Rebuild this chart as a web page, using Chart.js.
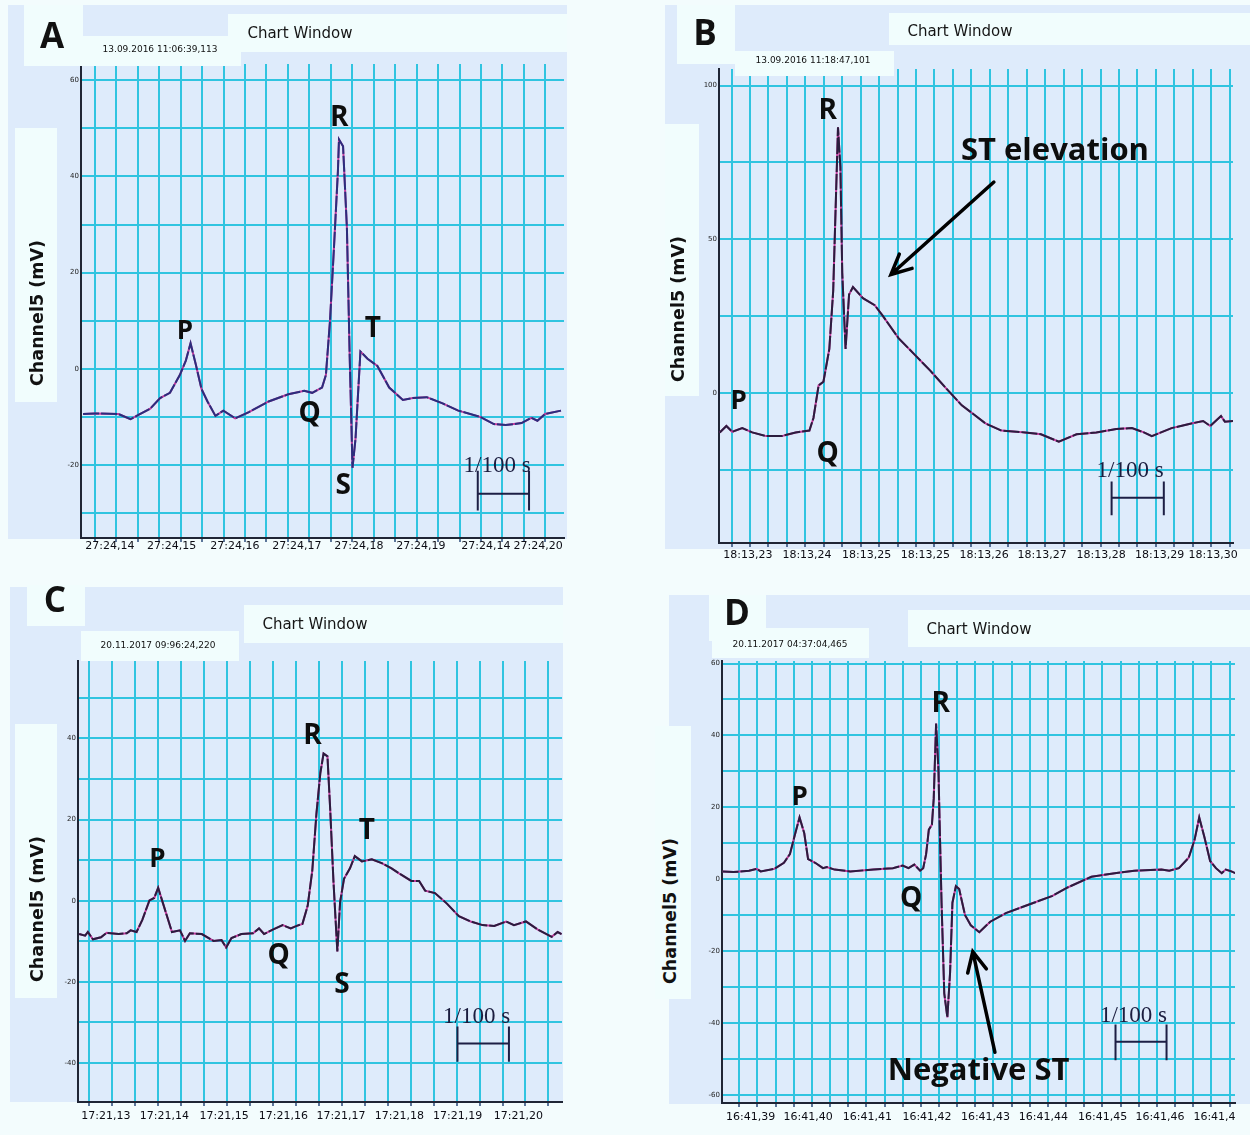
<!DOCTYPE html>
<html>
<head>
<meta charset="utf-8">
<script src="https://cdn.jsdelivr.net/npm/chart.js@4/dist/chart.umd.min.js"></script>
<style>
  html, body { margin: 0; padding: 0; }
  body { width: 1250px; height: 1135px; position: relative; overflow: hidden; background: #f3fcfd; font-family: "DejaVu Sans", sans-serif; }
  .blk { position: absolute; z-index: 0; }
  .bg { background: #deebfb; }
  .box { position: absolute; z-index: 3; background: #f1fdfd; }
  .plot { position: absolute; z-index: 1; }
  .txt { position: absolute; z-index: 4; white-space: nowrap; transform: translate(-50%, -50%); color: #111; }
  .letter { font: 700 35px "Open Sans", sans-serif; }
  .cw { font: 15px "DejaVu Sans", sans-serif; color: #151515; }
  .date { font: 9px "DejaVu Sans", sans-serif; color: #111; }
  .ytitle { font: 700 17.5px "DejaVu Sans", sans-serif; writing-mode: vertical-rl; transform: translate(-50%, -50%) rotate(180deg); }
</style>
</head>
<body>
<script>
// ===================== ECG traces (x in grid divisions, y in mV) =====================

// A: normal complex
const aTime = [-0.55,0,1.10,1.66,2.03,2.58,3.04,3.50,3.96,4.24,4.46,4.70,4.97,5.25,5.62,5.99,6.54,7.18,8.10,9.02,9.76,10.13,10.59,10.77,10.96,11.14,11.33,11.38,11.57,11.75,11.88,12.01,12.15,12.38,12.71,13.17,13.72,14.36,14.82,15.47,16.21,16.94,17.96,18.60,19.15,19.89,20.35,20.63,20.99,21.73];
const aVolt = [-9.4,-9.3,-9.4,-10.5,-9.6,-8.3,-6.1,-5.0,-1.3,1.7,5.3,1.0,-4.2,-6.8,-9.8,-8.7,-10.3,-9.0,-6.8,-5.3,-4.6,-5.0,-3.9,-1.3,9.9,24.7,41.1,47.7,46.3,29.2,2.4,-20.6,-14.6,3.6,2.1,0.6,-3.9,-6.5,-6.1,-5.9,-7.2,-8.7,-10.0,-11.5,-11.7,-11.3,-10.2,-10.8,-9.4,-8.7];
const aTickText = ['27:24,14','27:24,15','27:24,16','27:24,17','27:24,18','27:24,19','27:24,14','27:24,20'];
const aTickAt = [0.70,3.58,6.53,9.42,12.31,15.20,18.23,20.66];
const aYLabels = [-20,0,20,40,60];

// B: ST elevation
const bTime = [-0.64,-0.28,0.04,0.58,1.12,1.87,2.72,3.47,4.22,4.44,4.72,4.98,5.30,5.51,5.77,5.90,6.00,6.18,6.37,6.58,7.12,7.76,8.19,9.05,9.91,10.77,11.62,12.48,13.12,13.77,14.63,15.91,16.77,17.74,18.70,19.77,20.85,21.70,22.35,22.78,23.85,24.92,25.56,25.95,26.53,26.74,27.18];
const bVolt = [-12.9,-10.8,-12.7,-11.5,-12.9,-14.1,-14.1,-12.9,-12.3,-8.2,2.4,3.6,14.3,33.2,86.4,73.4,39.1,14.3,32.0,34.4,30.8,28.5,25.1,17.8,12.5,7.2,1.5,-4.1,-7.0,-10.0,-12.3,-12.9,-13.5,-15.9,-13.5,-12.9,-11.8,-11.5,-12.9,-14.1,-11.5,-10.0,-9.2,-10.8,-7.6,-9.4,-9.2];
const bTickText = ['18:13,23','18:13,24','18:13,25','18:13,25','18:13,26','18:13,27','18:13,28','18:13,29','18:13,30'];
const bTickAt = [0.89,4.09,7.32,10.51,13.69,16.83,20.03,23.20,26.10];
const bYLabels = [0,50,100];

// C: complex with T wave
const cTime = [-0.43,-0.17,-0.05,0.17,0.52,0.77,1.29,1.64,1.81,2.07,2.32,2.63,2.84,3.01,3.18,3.61,3.96,4.18,4.39,4.91,5.42,5.77,5.97,6.20,6.63,7.14,7.40,7.62,8.00,8.43,8.78,9.04,9.29,9.52,9.72,9.90,10.07,10.21,10.38,10.50,10.64,10.81,10.93,11.10,11.36,11.57,11.88,12.31,12.74,13.17,13.51,14.03,14.37,14.63,15.06,15.58,16.10,16.61,17.13,17.64,18.16,18.50,19.02,19.54,20.14,20.40,20.57];
const cVolt = [-8.2,-8.6,-7.7,-9.5,-9.0,-7.9,-8.2,-8.0,-7.3,-7.7,-4.7,0.1,0.7,3.2,0.1,-7.7,-7.3,-9.9,-8.0,-8.2,-9.9,-9.7,-11.5,-9.2,-8.2,-8.0,-6.8,-8.2,-7.1,-6.0,-6.8,-6.2,-5.7,-1.2,7.5,21.5,31.5,36.3,35.6,22.4,4.9,-12.5,-0.3,5.4,8.0,11.0,9.7,10.2,9.3,8.0,6.7,4.9,4.9,2.5,1.9,-0.7,-3.8,-5.1,-6.0,-6.2,-5.1,-6.0,-5.1,-7.1,-8.9,-7.7,-8.2];
const cTickText = ['17:21,13','17:21,14','17:21,15','17:21,16','17:21,17','17:21,18','17:21,19','17:21,20'];
const cTickAt = [0.73,3.28,5.88,8.46,10.97,13.51,16.05,18.69];
const cYLabels = [-40,-20,0,20,40];

// D: negative ST
const dTime = [-0.92,-0.32,0.54,0.96,1.18,1.93,2.46,2.79,3.06,3.32,3.58,3.79,4.18,4.61,4.82,5.25,6.11,7.39,8.46,9.00,9.32,9.64,9.96,10.13,10.29,10.44,10.61,10.71,10.84,10.97,11.03,11.14,11.29,11.46,11.61,11.74,11.93,12.11,12.43,12.75,13.22,13.82,14.68,15.96,17.25,18.11,19.39,20.68,21.75,23.25,23.68,24.21,24.75,25.07,25.33,25.61,25.93,26.25,26.57,26.79,27.10,27.32];
const dVolt = [2.2,2.0,2.4,2.9,2.2,2.9,4.6,7.0,12.3,17.2,12.8,5.6,4.6,3.1,3.4,2.7,2.2,2.7,3.1,3.8,3.1,4.1,2.4,3.1,7.0,13.8,15.2,22.5,43.3,30.2,16.7,-6.5,-31.7,-38.4,-25.9,-6.5,-1.9,-2.7,-9.9,-12.8,-14.7,-11.8,-9.4,-7.0,-4.6,-2.2,0.7,1.7,2.4,2.7,2.4,3.1,6.0,10.9,17.2,11.8,5.1,3.1,1.7,2.7,2.2,1.7];
const dTickText = ['16:41,39','16:41,40','16:41,41','16:41,42','16:41,43','16:41,44','16:41,45','16:41,46','16:41,4'];
const dTickAt = [0.63,3.79,7.06,10.34,13.56,16.75,20.01,23.17,26.17];
const dYLabels = [-60,-40,-20,0,20,40,60];

// ===================== panel layout =====================
const CYAN = '#30c4e0';
const MAGENTA = '#c43a9e';

const panels = [
  { id: 'A', time: aTime, volt: aVolt, tickText: aTickText, tickAt: aTickAt, yLabels: aYLabels,
    L: 81, T: 64, R: 564, B: 538, xMin: -0.647, xMax: 21.87, yMin: -35.2, yMax: 63.4,
    xGrid: [0, 21], yGrid: [-30, 60, 10], xPad: -2, ink: '#2b2e7c',
    bg: [8, 5, 567, 539],
    boxes: [[24, 5, 83, 66], [228, 14, 567, 52], [83, 36, 241, 66], [15, 128, 57, 402]],
    letter: [52, 34], cw: [300, 33], date: [160, 49, '13.09.2016 11:06:39,113'], ytitle: [37, 313],
    marks: [['P', 4.20, 7.8, 26], ['R', 11.39, 52.2, 28], ['T', 12.96, 8.2, 28], ['Q', 10.01, -9.4, 28], ['S', 11.58, -24.3, 28]],
    bar: { x0: 17.85, x1: 20.24, y: -26.0, yTop: -21.2, yBot: -29.5, tx: 18.75, ty: -20.2 },
    arrows: [] },
  { id: 'B', time: bTime, volt: bVolt, tickText: bTickText, tickAt: bTickAt, yLabels: bYLabels,
    L: 719, T: 69, R: 1233, B: 543, xMin: -0.68, xMax: 27.18, yMin: -48.9, yMax: 105.4,
    xGrid: [0, 27], yGrid: [-25, 100, 25], xPad: 2, ink: '#2a1d3e',
    bg: [665, 5, 1250, 549],
    boxes: [[677, 5, 735, 64], [889, 13, 1250, 45], [735, 51, 894, 76], [665, 124, 699, 396]],
    letter: [705, 31], cw: [960, 31], date: [813, 60, '13.09.2016 11:18:47,101'], ytitle: [678, 309],
    marks: [['R', 5.21, 91.7, 28], ['P', 0.39, -2.9, 26], ['Q', 5.21, -19.8, 28], ['ST elevation', 17.53, 78.7, 31]],
    bar: { x0: 20.6, x1: 23.43, y: -34.2, yTop: -28.9, yBot: -39.9, tx: 21.6, ty: -25.6 },
    arrows: [[14.22, 68.6, 8.64, 38.5]] },
  { id: 'C', time: cTime, volt: cVolt, tickText: cTickText, tickAt: cTickAt, yLabels: cYLabels,
    L: 78, T: 661, R: 562, B: 1102, xMin: -0.48, xMax: 20.59, yMin: -49.6, yMax: 59.1,
    xGrid: [0, 20], yGrid: [-40, 50, 10], xPad: 4, ink: '#2a1d3e',
    bg: [10, 587, 563, 1102],
    boxes: [[27, 585, 85, 626], [244, 605, 563, 643], [81, 631, 239, 661], [15, 724, 57, 998]],
    letter: [55, 598], cw: [315, 624], date: [158, 645, '20.11.2017 09:96:24,220'], ytitle: [37, 909],
    marks: [['P', 2.98, 10.2, 26], ['R', 9.73, 40.7, 28], ['T', 12.10, 17.3, 28], ['Q', 8.26, -13.6, 28], ['S', 11.01, -20.8, 28]],
    bar: { x0: 16.04, x1: 18.28, y: -35.2, yTop: -31.0, yBot: -39.7, tx: 16.87, ty: -28.7 },
    arrows: [] },
  { id: 'D', time: dTime, volt: dVolt, tickText: dTickText, tickAt: dTickAt, yLabels: dYLabels,
    L: 722, T: 661, R: 1235, B: 1103, xMin: -0.95, xMax: 27.3, yMin: -62.2, yMax: 60.7,
    xGrid: [0, 27], yGrid: [-60, 60, 10], xPad: 4, ink: '#2a1d3e',
    bg: [669, 595, 1250, 1104],
    boxes: [[709, 595, 766, 641], [908, 610, 1250, 647], [712, 628, 869, 658], [655, 726, 691, 999]],
    letter: [737, 611], cw: [979, 629], date: [790, 644, '20.11.2017 04:37:04,465'], ytitle: [670, 911],
    marks: [['P', 3.32, 22.8, 26], ['R', 11.10, 48.6, 28], ['Q', 9.47, -5.4, 28], ['Negative ST', 13.18, -53.4, 31]],
    bar: { x0: 20.72, x1: 23.53, y: -45.2, yTop: -40.4, yBot: -50.3, tx: 21.71, ty: -38.0 },
    arrows: [[14.08, -48.1, 12.86, -20.1]] }
];

// ===================== drawing helpers =====================
function addDiv(cls, rect, text) {
  const d = document.createElement('div');
  d.className = cls;
  if (rect) {
    d.style.left = rect[0] + 'px'; d.style.top = rect[1] + 'px';
    d.style.width = (rect[2] - rect[0]) + 'px'; d.style.height = (rect[3] - rect[1]) + 'px';
  }
  if (text !== undefined) d.textContent = text;
  document.body.appendChild(d);
  return d;
}
function addText(cls, x, y, text) {
  const d = addDiv('txt ' + cls, null, text);
  d.style.left = x + 'px'; d.style.top = y + 'px';
  return d;
}

// labels, scale bar and arrows placed in data coordinates
const ecgMarks = {
  id: 'ecgMarks',
  afterDatasetsDraw(chart, args, o) {
    const { ctx, scales: { x, y } } = chart;
    const px = v => x.getPixelForValue(v), py = v => y.getPixelForValue(v);
    ctx.save();
    ctx.textAlign = 'center';
    ctx.textBaseline = 'middle';
    ctx.fillStyle = '#0d0d0d';
    o.marks.forEach(([t, u, v, size]) => {
      ctx.font = `700 ${size}px "Open Sans", sans-serif`;
      ctx.fillText(t, px(u), py(v));
    });
    // 1/100 s scale bar
    const b = o.bar;
    ctx.strokeStyle = '#1d1f45';
    ctx.lineWidth = 2;
    ctx.beginPath();
    ctx.moveTo(px(b.x0), py(b.y)); ctx.lineTo(px(b.x1), py(b.y));
    ctx.moveTo(px(b.x0), py(b.yTop)); ctx.lineTo(px(b.x0), py(b.yBot));
    ctx.moveTo(px(b.x1), py(b.yTop)); ctx.lineTo(px(b.x1), py(b.yBot));
    ctx.stroke();
    ctx.fillStyle = '#1b1d3f';
    ctx.font = '23px "Liberation Serif", serif';
    ctx.fillText('1/100 s', px(b.tx), py(b.ty));
    // pointer arrows
    ctx.strokeStyle = '#000';
    ctx.lineWidth = 3.5;
    ctx.lineCap = 'round';
    o.arrows.forEach(([u0, v0, u1, v1]) => {
      const x0 = px(u0), y0 = py(v0), x1 = px(u1), y1 = py(v1);
      const ang = Math.atan2(y1 - y0, x1 - x0);
      const head = 22, spread = Math.PI / 7;
      ctx.beginPath();
      ctx.moveTo(x0, y0); ctx.lineTo(x1, y1);
      ctx.moveTo(x1 - head * Math.cos(ang - spread), y1 - head * Math.sin(ang - spread));
      ctx.lineTo(x1, y1);
      ctx.lineTo(x1 - head * Math.cos(ang + spread), y1 - head * Math.sin(ang + spread));
      ctx.stroke();
    });
    ctx.restore();
  }
};

function buildPanel(p) {
  // chrome: background, header boxes and titles
  addDiv('blk bg', p.bg);
  p.boxes.forEach(r => addDiv('box', r));
  addText('letter', p.letter[0], p.letter[1], p.id);
  addText('cw', p.cw[0], p.cw[1], 'Chart Window');
  addText('date', p.date[0], p.date[1], p.date[2]);
  addText('ytitle', p.ytitle[0], p.ytitle[1], 'Channel5 (mV)');

  // canvas sized so that the chart area lands on L..R, T..B
  const yw = 30, pt = 12, pr = 14, xh = 26;
  const wrap = document.createElement('div');
  wrap.className = 'plot';
  wrap.style.left = (p.L - yw) + 'px';
  wrap.style.top = (p.T - pt) + 'px';
  wrap.style.width = (p.R - p.L + yw + pr) + 'px';
  wrap.style.height = (p.B - p.T + pt + xh) + 'px';
  const cv = document.createElement('canvas');
  wrap.appendChild(cv);
  document.body.appendChild(wrap);

  const gridVals = [];
  for (let g = p.xGrid[0]; g <= p.xGrid[1]; g++) gridVals.push(g);
  const gridSet = new Set(gridVals);
  const xTicks = gridVals.map(v => ({ value: v, label: '' }))
    .concat(p.tickAt.map((v, i) => ({ value: v, label: p.tickText[i] })))
    .sort((a, b) => a.value - b.value);
  const yVals = [];
  for (let v = p.yGrid[0]; v <= p.yGrid[1]; v += p.yGrid[2]) yVals.push(v);
  const ySet = new Set(p.yLabels);
  const isGrid = ctx => ctx.tick && gridSet.has(ctx.tick.value);

  const pts = p.time.map((t, i) => ({ x: t, y: p.volt[i] }));

  new Chart(cv, {
    type: 'line',
    data: {
      datasets: [
        { data: pts, borderColor: p.ink, borderWidth: 2, borderDash: [16, 2], order: 1 },
        { data: pts, borderColor: MAGENTA, borderWidth: 2, order: 2 }
      ]
    },
    options: {
      animation: false,
      responsive: true,
      maintainAspectRatio: false,
      layout: { padding: { top: pt, right: pr, left: 0, bottom: 0 } },
      elements: { point: { radius: 0 }, line: { tension: 0 } },
      plugins: { legend: { display: false }, tooltip: { enabled: false }, ecgMarks: p },
      scales: {
        x: {
          type: 'linear', min: p.xMin, max: p.xMax,
          afterBuildTicks: s => { s.ticks = xTicks.map(t => ({ value: t.value })); },
          afterFit: s => { s.height = xh; },
          grid: {
            color: c => isGrid(c) ? CYAN : 'rgba(0,0,0,0)',
            tickColor: c => isGrid(c) ? '#2a4a78' : 'rgba(0,0,0,0)',
            lineWidth: 2, tickWidth: 1.5, tickLength: 4, drawTicks: true
          },
          border: { display: true, color: '#1f2535', width: 2 },
          ticks: {
            autoSkip: false, maxRotation: 0, minRotation: 0, padding: p.xPad,
            color: '#0c0c14', font: { family: 'DejaVu Sans', size: 11 },
            callback: (v, i) => xTicks[i].label
          }
        },
        y: {
          type: 'linear', min: p.yMin, max: p.yMax,
          afterBuildTicks: s => { s.ticks = yVals.map(v => ({ value: v })); },
          afterFit: s => { s.width = yw; },
          grid: { color: CYAN, lineWidth: 2, drawTicks: false },
          border: { display: true, color: '#1f2535', width: 2 },
          ticks: {
            autoSkip: false, padding: 2, color: '#222',
            font: { family: 'DejaVu Sans', size: 7 },
            callback: v => ySet.has(v) ? String(v) : ''
          }
        }
      }
    },
    plugins: [ecgMarks]
  });
}

panels.forEach(buildPanel);
</script>
</body>
</html>
